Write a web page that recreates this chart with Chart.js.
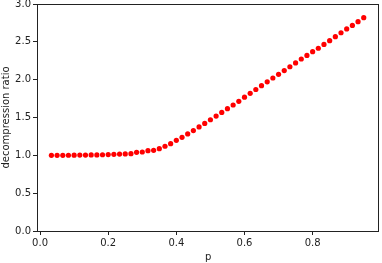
<!DOCTYPE html>
<html>
<head>
<meta charset="utf-8">
<script src="https://cdn.jsdelivr.net/npm/chart.js@4/dist/chart.umd.min.js"></script>
<style>
  html, body { margin: 0; padding: 0; background: #fff; }
  #wrap { width: 382px; height: 263px; }
</style>
</head>
<body>
<div id="wrap"><canvas id="chart"></canvas></div>
<script>
// p values (k/60, k = 2..57)
const pValues = [
    0.0333, 0.0500, 0.0667, 0.0833, 0.1000, 0.1167, 0.1333, 0.1500,
    0.1667, 0.1833, 0.2000, 0.2167, 0.2333, 0.2500, 0.2667, 0.2833,
    0.3000, 0.3167, 0.3333, 0.3500, 0.3667, 0.3833, 0.4000, 0.4167,
    0.4333, 0.4500, 0.4667, 0.4833, 0.5000, 0.5167, 0.5333, 0.5500,
    0.5667, 0.5833, 0.6000, 0.6167, 0.6333, 0.6500, 0.6667, 0.6833,
    0.7000, 0.7167, 0.7333, 0.7500, 0.7667, 0.7833, 0.8000, 0.8167,
    0.8333, 0.8500, 0.8667, 0.8833, 0.9000, 0.9167, 0.9333, 0.9500
];

// decompression ratio
const ratioValues = [
    1.000, 1.000, 1.000, 1.001, 1.002, 1.003, 1.004, 1.005,
    1.006, 1.008, 1.010, 1.013, 1.016, 1.018, 1.022, 1.040,
    1.044, 1.062, 1.066, 1.088, 1.120, 1.154, 1.198, 1.238,
    1.283, 1.327, 1.376, 1.422, 1.470, 1.519, 1.567, 1.616,
    1.665, 1.714, 1.768, 1.820, 1.870, 1.920, 1.972, 2.022,
    2.070, 2.120, 2.171, 2.221, 2.273, 2.321, 2.370, 2.415,
    2.466, 2.515, 2.568, 2.620, 2.670, 2.717, 2.766, 2.819
];

const xTicks = [0.0, 0.2, 0.4, 0.6, 0.8];
const yTicks = [0.0, 0.5, 1.0, 1.5, 2.0, 2.5, 3.0];

const font = { family: 'DejaVu Sans', size: 10 };

// matplotlib-like frame around the plot area
const frame = {
    id: 'frame',
    afterDraw(chart) {
        const a = chart.chartArea;
        const ctx = chart.ctx;
        ctx.save();
        ctx.strokeStyle = '#222';
        ctx.lineWidth = 1;
        ctx.strokeRect(Math.round(a.left) + 0.5, Math.round(a.top) + 0.5,
            Math.round(a.right - a.left) - 1, Math.round(a.bottom - a.top));
        ctx.restore();
    }
};

new Chart(document.getElementById('chart').getContext('2d'), {
    type: 'scatter',
    data: {
        datasets: [{
            data: pValues.map((p, i) => ({ x: p, y: ratioValues[i] })),
            backgroundColor: '#ff0000',
            borderWidth: 0,
            pointRadius: 2.6,
            pointHoverRadius: 2.6
        }]
    },
    options: {
        responsive: true,
        maintainAspectRatio: false,
        animation: false,
        events: [],
        layout: { padding: { top: 4, right: 1, left: 0, bottom: 0 } },
        plugins: { legend: { display: false }, tooltip: { enabled: false } },
        scales: {
            x: {
                type: 'linear',
                min: -0.009,
                max: 0.996,
                afterBuildTicks: s => { s.ticks = xTicks.map(v => ({ value: v })); },
                afterFit: s => { s.height = 32; s.paddingLeft = 0; s.paddingRight = 0; },
                grid: { drawOnChartArea: false, drawTicks: true, tickLength: 4, color: '#222' },
                border: { display: false },
                ticks: { font, color: '#222', padding: 2, maxRotation: 0, callback: v => v.toFixed(1) },
                title: { display: true, text: 'p', font, color: '#222', padding: { top: 0, bottom: 0 } }
            },
            y: {
                type: 'linear',
                min: 0,
                max: 3,
                afterBuildTicks: s => { s.ticks = yTicks.map(v => ({ value: v })); },
                afterFit: s => { s.width = 37; s.paddingTop = 0; s.paddingBottom = 0; },
                grid: { drawOnChartArea: false, drawTicks: true, tickLength: 4, color: '#222' },
                border: { display: false },
                ticks: { font, color: '#222', padding: 2, callback: v => v.toFixed(1) },
                title: { display: true, text: 'decompression ratio', font, color: '#222', padding: { top: 0, bottom: 0 } }
            }
        }
    },
    plugins: [frame]
});
</script>
</body>
</html>
